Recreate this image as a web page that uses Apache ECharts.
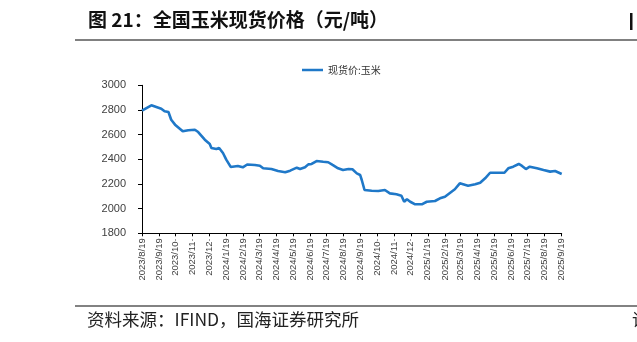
<!DOCTYPE html>
<html>
<head>
<meta charset="utf-8">
<script src="https://cdn.jsdelivr.net/npm/echarts@6/dist/echarts.min.js"></script>
<style>
html,body{margin:0;padding:0;background:#fff;}
#chart{width:637px;height:342px;}
</style>
</head>
<body>
<div id="chart"></div>
<script>
// ---- data ----
const seriesName = '现货价:玉米';
const dates = ['2023-08-19','2023-09-05','2023-09-14','2023-09-23','2023-09-29','2023-10-06','2023-10-11','2023-10-18','2023-10-25','2023-11-01','2023-11-11','2023-11-23','2023-11-29','2023-12-11','2023-12-20','2023-12-23','2024-01-01','2024-01-06','2024-01-13','2024-01-19','2024-01-27','2024-02-09','2024-02-18','2024-02-26','2024-03-11','2024-03-20','2024-03-26','2024-04-10','2024-04-22','2024-05-05','2024-05-14','2024-05-26','2024-06-01','2024-06-10','2024-06-16','2024-06-22','2024-07-01','2024-07-13','2024-07-22','2024-07-30','2024-08-09','2024-08-18','2024-08-28','2024-09-04','2024-09-12','2024-09-18','2024-09-21','2024-09-26','2024-10-09','2024-10-21','2024-11-02','2024-11-11','2024-11-23','2024-12-02','2024-12-07','2024-12-12','2024-12-18','2024-12-27','2025-01-08','2025-01-17','2025-02-01','2025-02-10','2025-02-19','2025-03-03','2025-03-09','2025-03-18','2025-04-02','2025-04-15','2025-04-24','2025-05-03','2025-05-12','2025-05-24','2025-06-07','2025-06-14','2025-06-23','2025-07-03','2025-07-09','2025-07-16','2025-07-23','2025-08-05','2025-08-17','2025-08-29','2025-09-07','2025-09-19'];
const prices = [2794,2838,2824,2810,2789,2783,2721,2681,2654,2627,2635,2640,2621,2559,2524,2492,2484,2492,2451,2397,2338,2346,2335,2358,2354,2348,2327,2321,2305,2295,2308,2332,2321,2335,2359,2362,2386,2380,2376,2354,2327,2313,2321,2319,2286,2273,2232,2151,2145,2143,2151,2124,2116,2105,2056,2076,2056,2035,2035,2056,2062,2084,2097,2137,2157,2205,2186,2197,2210,2246,2291,2291,2291,2327,2340,2362,2346,2321,2340,2327,2313,2300,2305,2281];
const tickDates = ['2023-08-19','2023-09-19','2023-10-19','2023-11-19','2023-12-19','2024-01-19','2024-02-19','2024-03-19','2024-04-19','2024-05-19','2024-06-19','2024-07-19','2024-08-19','2024-09-19','2024-10-19','2024-11-19','2024-12-19','2025-01-19','2025-02-19','2025-03-19','2025-04-19','2025-05-19','2025-06-19','2025-07-19','2025-08-19','2025-09-19'];
const tickLabels = ['2023/8/19','2023/9/19','2023/10·','2023/11·','2023/12·','2024/1/19','2024/2/19','2024/3/19','2024/4/19','2024/5/19','2024/6/19','2024/7/19','2024/8/19','2024/9/19','2024/10·','2024/11·','2024/12·','2025/1/19','2025/2/19','2025/3/19','2025/4/19','2025/5/19','2025/6/19','2025/7/19','2025/8/19','2025/9/19'];
const yMin = 1800, yMax = 3000, yStep = 200;

// ---- helpers: day number since epoch (UTC) ----
function dayNum(s){ const p = s.split('-').map(Number); return Date.UTC(p[0], p[1]-1, p[2]) / 86400000; }
const tickDays = tickDates.map(dayNum);
const seriesData = dates.map((d,i)=>[dayNum(d), prices[i]]);

const chart = echarts.init(document.getElementById('chart'), null, {renderer:'canvas'});
const cjk = '"Noto Sans CJK SC", sans-serif';
const latin = '"Liberation Sans", Arial, sans-serif';

chart.setOption({
  animation:false,
  backgroundColor:'#fff',
  grid:{left:142, right:75.3, top:85.3, bottom:108.7, outerBoundsMode:'none', containLabel:false},
  legend:{
    data:[seriesName], left:297, top:60,
    icon:'rect', itemWidth:21, itemHeight:2.5, itemGap:10,
    textStyle:{fontSize:10, color:'#333', fontFamily:cjk}
  },
  xAxis:{
    type:'value', min:tickDays[0], max:tickDays[tickDays.length-1],
    axisLine:{lineStyle:{color:'#000', width:1}},
    axisTick:{show:true, length:3, lineStyle:{color:'#000'}, customValues:tickDays},
    splitLine:{show:false},
    axisLabel:{
      customValues:tickDays, rotate:90, fontSize:9.5, color:'#404040', fontFamily:latin, margin:5,
      formatter:function(v){ const i = tickDays.indexOf(v); return i>=0 ? tickLabels[i] : ''; }
    }
  },
  yAxis:{
    type:'value', min:yMin, max:yMax, interval:yStep,
    axisLine:{show:true, lineStyle:{color:'#000', width:1}},
    axisTick:{show:true, length:4, lineStyle:{color:'#000'}},
    splitLine:{show:false},
    axisLabel:{fontSize:11, color:'#404040', fontFamily:latin, margin:16, formatter:function(v){ return String(v); }}
  },
  series:[{
    name:seriesName, type:'line', data:seriesData,
    showSymbol:false, symbol:'none',
    lineStyle:{color:'#1f78c8', width:2.6}, itemStyle:{color:'#1f78c8'}
  }],
  graphic:[
    {type:'text', left:88, top:10, style:{text:'图 21：全国玉米现货价格（元/吨）', font:'bold 19px '+cjk, fill:'#111'}},
    {type:'rect', shape:{x:630, y:13, width:2.5, height:17}, style:{fill:'#111'}},
    {type:'line', shape:{x1:75, y1:40, x2:637, y2:40}, style:{stroke:'#808080', lineWidth:2}},
    {type:'line', shape:{x1:75, y1:306, x2:637, y2:306}, style:{stroke:'#595959', lineWidth:1.5}},
    {type:'text', left:87, top:311, style:{text:'资料来源：IFIND，国海证券研究所', font:'17.5px '+cjk, fill:'#222'}},
    {type:'text', left:632, top:311, style:{text:'请', font:'17.5px '+cjk, fill:'#222'}}
  ]
});
</script>
</body>
</html>
